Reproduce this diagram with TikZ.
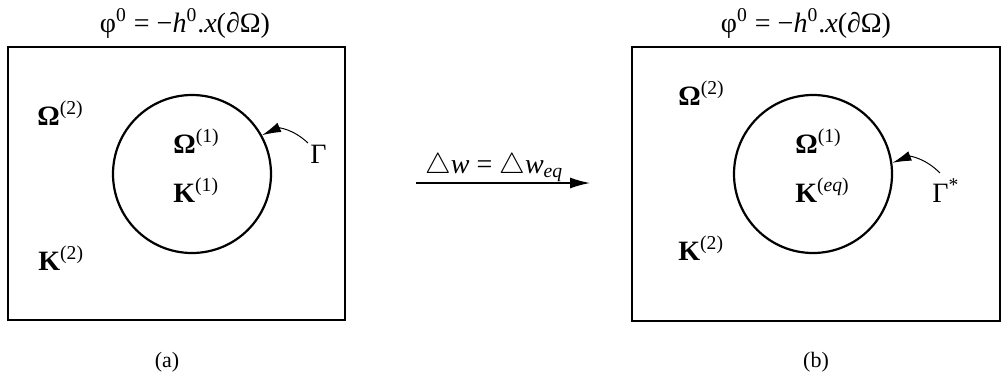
\documentclass[tikz,border=0pt]{standalone}
\usepackage{fontspec}
\setmainfont{Liberation Serif}
\usetikzlibrary{arrows.meta}
\tikzset{
  lbl/.style={inner sep=0pt, anchor=base west, font=\fontsize{14}{17}\selectfont},
  captxt/.style={inner sep=0pt, anchor=base, font=\fontsize{11}{13}\selectfont},
  frame/.style={draw, line width=1pt, rectangle, inner sep=0pt},
  ring/.style={draw, line width=1.1pt, circle, inner sep=0pt, minimum size=79pt},
  gtip/.style={-{Latex[length=9.5pt,width=5pt]}, line width=0.5pt},
  mainarrow/.style={-{Latex[length=10pt,width=5.5pt]}, line width=0.7pt}
}
\begin{document}
\begin{tikzpicture}[x=0.5pt,y=-0.5pt]
\useasboundingbox (0,0) rectangle (1005,381);
% boxes
\node[frame, minimum width=168.5pt, minimum height=136.5pt] (boxA) at (176.5,183.5) {};
\node[frame, minimum width=184pt, minimum height=137pt] (boxB) at (816,184) {};
% circles
\node[ring] (cA) at (192,174) {};
\node[ring] (cB) at (813,174) {};
% top labels
\node[lbl, anchor=base] (tA) at (185,32) {φ\textsuperscript{0}\hspace{0.25em}=\hspace{0.25em}−\textit{h}\textsuperscript{0}.\textit{x}(∂Ω)};
\node[lbl, anchor=base] (tB) at (806,32) {φ\textsuperscript{0}\hspace{0.25em}=\hspace{0.25em}−\textit{h}\textsuperscript{0}.\textit{x}(∂Ω)};
% left contents
\node[lbl] (o2A) at (37,125) {\textbf{Ω}\textsuperscript{(2)}};
\node[lbl] (k2A) at (38,270) {\textbf{K}\textsuperscript{(2)}};
\node[lbl] (o1A) at (173,153) {\textbf{Ω}\textsuperscript{(1)}};
\node[lbl] (k1A) at (173,202) {\textbf{K}\textsuperscript{(1)}};
\node[lbl] (gA) at (310,163) {Γ};
% right contents
\node[lbl] (o2B) at (678,105) {\textbf{Ω}\textsuperscript{(2)}};
\node[lbl] (k2B) at (678,260) {\textbf{K}\textsuperscript{(2)}};
\node[lbl] (o1B) at (795,153) {\textbf{Ω}\textsuperscript{(1)}};
\node[lbl] (keB) at (795,202) {\textbf{K}\textsuperscript{(\textit{eq})}};
\node[lbl] (gB) at (932,202) {Γ\textsuperscript{*}};
% captions
\node[captxt] (capA) at (167,367) {(a)};
\node[captxt] (capB) at (816,367) {(b)};
% Gamma arrows
\coordinate (sA) at (308,143);
\coordinate (sB) at (940,173);
\draw[gtip] (sA) .. controls (292,128) and (278,128) .. (cA.29.7);
\draw[gtip] (sB) .. controls (925,158) and (910,156) .. (cB.8.5);
% main arrow
\coordinate (m1) at (416,183);
\coordinate (m2) at (590,183);
\draw[mainarrow] (m1) -- (m2) node[lbl, anchor=base, pos=0.45, yshift=5pt] (ml) {$\triangle$\textit{w}\hspace{0.25em}=\hspace{0.25em}$\triangle$\textit{w}\textsubscript{\textit{eq}}};
\end{tikzpicture}
\end{document}
